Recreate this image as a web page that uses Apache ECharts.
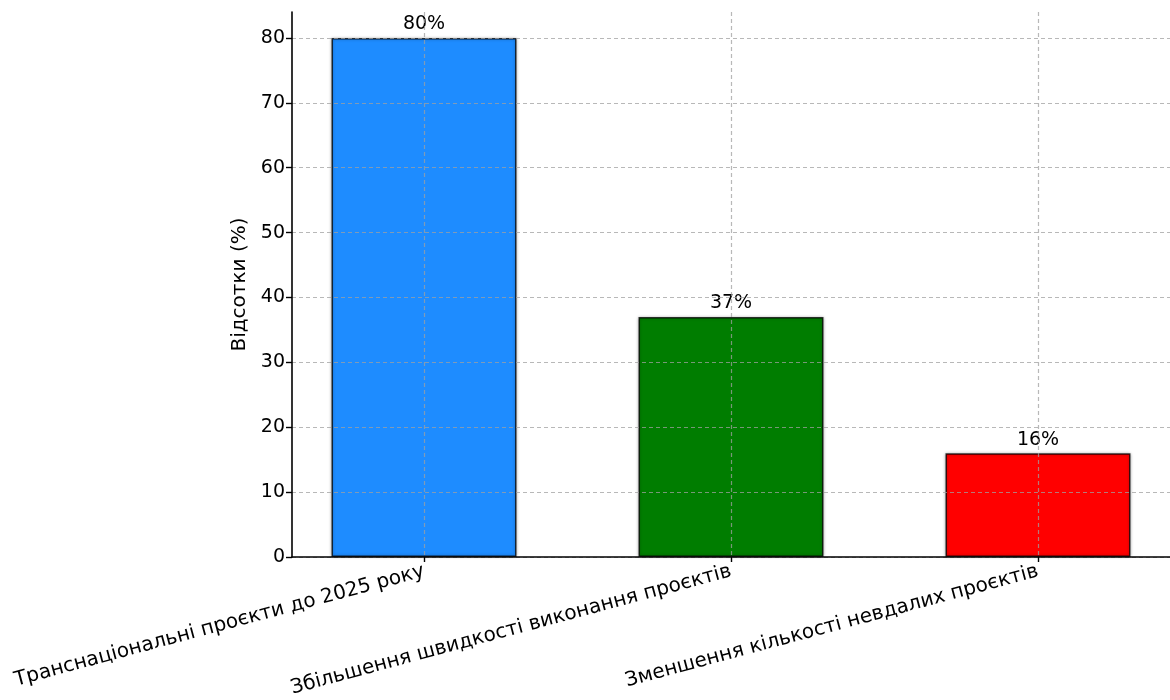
<!DOCTYPE html>
<html>
<head>
<meta charset="utf-8">
<script src="https://cdn.jsdelivr.net/npm/echarts@6/dist/echarts.min.js"></script>
<style>
  html, body { margin: 0; padding: 0; background: #fff; }
  #chart { width: 1170px; height: 700px; }
</style>
</head>
<body>
<div id="chart"></div>
<script>
// Категорії та значення (%)
const categories = [
  'Транснаціональні проєкти до 2025 року',
  'Збільшення швидкості виконання проєктів',
  'Зменшення кількості невдалих проєктів'
];
const values = [80, 37, 16];
const barColors = ['#1e8cff', '#007d00', '#ff0000'];
const yTicks = [0, 10, 20, 30, 40, 50, 60, 70, 80];
const xTicks = [0, 1, 2];

const font = 'DejaVu Sans';

const chart = echarts.init(document.getElementById('chart'), null, { renderer: 'canvas' });

const gridLine = {
  show: true,
  lineStyle: { color: 'rgba(160,160,160,0.75)', type: [4, 3], width: 1.2 }
};

chart.setOption({
  animation: false,
  backgroundColor: '#fff',
  textStyle: { fontFamily: font },
  grid: { left: 292, right: -5, top: 12, bottom: 143, containLabel: false },
  xAxis: {
    type: 'value',
    min: -0.43,
    max: 2.43,
    z: 3,
    axisLine: { show: true, onZero: false, lineStyle: { color: '#000', width: 1.6 } },
    axisTick: { show: true, customValues: xTicks, length: 5, lineStyle: { color: '#000', width: 1.4 } },
    axisLabel: {
      customValues: xTicks,
      rotate: 15,
      margin: 14,
      fontSize: 20,
      color: '#000',
      fontFamily: font,
      formatter: v => categories[Math.round(v)]
    },
    splitLine: gridLine
  },
  yAxis: {
    type: 'value',
    min: 0,
    max: 84,
    z: 3,
    name: 'Відсотки (%)',
    nameLocation: 'middle',
    nameGap: 38,
    nameTextStyle: { fontSize: 20, color: '#000', fontFamily: font },
    axisLine: { show: true, onZero: false, lineStyle: { color: '#000', width: 1.6 } },
    axisTick: { show: true, customValues: yTicks, length: 6, lineStyle: { color: '#000', width: 1.4 } },
    axisLabel: { customValues: yTicks, fontSize: 19, color: '#000', margin: 7, fontFamily: font },
    splitLine: gridLine
  },
  series: [{
    type: 'bar',
    z: 2,
    barWidth: 185,
    data: values.map((v, i) => ({
      value: [i, v],
      itemStyle: { color: barColors[i] }
    })),
    itemStyle: {
      borderColor: 'rgba(0,0,0,0.75)',
      borderWidth: 1.5,
      shadowColor: 'rgba(0,0,0,0.35)',
      shadowBlur: 3
    },
    label: {
      show: true,
      position: 'top',
      distance: 4,
      fontSize: 19,
      color: '#000',
      fontFamily: font,
      formatter: p => p.value[1] + '%'
    }
  }]
});
</script>
</body>
</html>
